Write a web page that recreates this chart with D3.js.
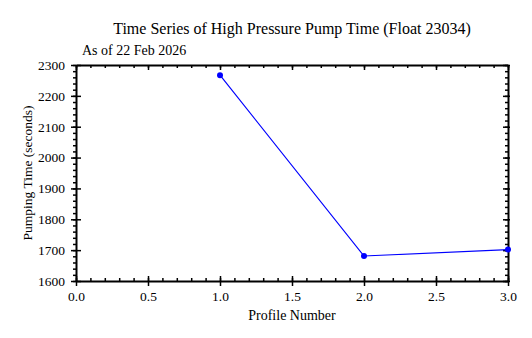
<!DOCTYPE html>
<html><head><meta charset="utf-8">
<script src="https://cdn.jsdelivr.net/npm/d3@7"></script>
<style>body{margin:0;background:#fff}svg{display:block}text{font-family:"Liberation Serif","DejaVu Serif",serif;fill:#000}</style>
</head><body>
<script>
const profiles = [1, 2, 3];
const pumpTime = [2267, 1681, 1702];
const xTicks = [0, 0.5, 1.0, 1.5, 2.0, 2.5, 3.0];
const yTicks = [1600, 1700, 1800, 1900, 2000, 2100, 2200, 2300];
const titleText = "Time Series of High Pressure Pump Time (Float 23034)";
const subtitleText = "As of 22 Feb 2026";
const xLabel = "Profile Number";
const yLabel = "Pumping Time (seconds)";

const W = 532, H = 338;
const m = {l: 76, r: 24, t: 65, b: 57};
const svg = d3.select("body").append("svg").attr("width", W).attr("height", H);
const x = d3.scaleLinear().domain([0, 3]).range([m.l, W - m.r]);
const y = d3.scaleLinear().domain([1600, 2300]).range([H - m.b, m.t]);

const g = svg.append("g");
const xMinor = d3.range(0, 3.0001, 0.1);
const yMinor = d3.range(1600, 2300.1, 20);
function axisStyle(sel){ sel.select(".domain").attr("stroke","#000").attr("stroke-width",2); sel.selectAll(".tick line").attr("stroke","#000").attr("stroke-width",1.5); }

// bottom
const bx = g.append("g").attr("transform",`translate(0,${H-m.b})`)
  .call(d3.axisBottom(x).tickValues(xTicks).tickFormat(d3.format(".1f")).tickSize(5).tickSizeOuter(0));
axisStyle(bx);
bx.selectAll(".tick line").attr("y1",-5);
bx.selectAll(".tick text").attr("font-size",13.5).attr("dy","0.9em");
g.append("g").attr("transform",`translate(0,${H-m.b})`).call(d3.axisBottom(x).tickValues(xMinor).tickSize(-3).tickFormat("").tickSizeOuter(0))
 .call(s=>{s.select(".domain").remove(); s.selectAll("line").attr("stroke","#000").attr("stroke-width",1.5);});
// top
const tx = g.append("g").attr("transform",`translate(0,${m.t})`)
  .call(d3.axisTop(x).tickValues(xTicks).tickFormat("").tickSize(-5).tickSizeOuter(0));
axisStyle(tx);
g.append("g").attr("transform",`translate(0,${m.t})`).call(d3.axisTop(x).tickValues(xMinor).tickSize(-3).tickFormat("").tickSizeOuter(0))
 .call(s=>{s.select(".domain").remove(); s.selectAll("line").attr("stroke","#000").attr("stroke-width",1.5);});
// left
const ly = g.append("g").attr("transform",`translate(${m.l},0)`)
  .call(d3.axisLeft(y).tickValues(yTicks).tickFormat(d3.format("d")).tickSize(5).tickSizeOuter(0));
axisStyle(ly);
ly.selectAll(".tick line").attr("x1",5);
ly.selectAll(".tick text").attr("font-size",13.5).attr("x",-11);
g.append("g").attr("transform",`translate(${m.l},0)`).call(d3.axisLeft(y).tickValues(yMinor).tickSize(3).tickFormat("").tickSizeOuter(0))
 .call(s=>{s.select(".domain").remove(); s.selectAll("line").attr("stroke","#000").attr("stroke-width",1.5);});
// right
const ry = g.append("g").attr("transform",`translate(${W-m.r},0)`)
  .call(d3.axisRight(y).tickValues(yTicks).tickFormat("").tickSize(-5).tickSizeOuter(0));
axisStyle(ry);
ry.selectAll(".tick line").attr("x1",2);
g.append("g").attr("transform",`translate(${W-m.r},0)`).call(d3.axisRight(y).tickValues(yMinor).tickSize(-3).tickFormat("").tickSizeOuter(0))
 .call(s=>{s.select(".domain").remove(); s.selectAll("line").attr("stroke","#000").attr("stroke-width",1.5);});

// data
const pts = profiles.map((p,i)=>({p, v: pumpTime[i]}));
svg.append("path").datum(pts).attr("fill","none").attr("stroke","#0000ff").attr("stroke-width",1.2)
  .attr("d", d3.line().x(d=>x(d.p)).y(d=>y(d.v)));
svg.selectAll("circle.pt").data(pts).enter().append("circle").attr("class","pt")
  .attr("cx",d=>x(d.p)).attr("cy",d=>y(d.v)).attr("r",3).attr("fill","#0000ff");

// texts
svg.append("text").attr("x",(m.l+W-m.r)/2).attr("y",34).attr("text-anchor","middle").attr("font-size",16).text(titleText);
svg.append("text").attr("x",82).attr("y",55).attr("font-size",14).text(subtitleText);
svg.append("text").attr("x",(m.l+W-m.r)/2).attr("y",320).attr("text-anchor","middle").attr("font-size",14).text(xLabel);
svg.append("text").attr("transform",`translate(32,${(m.t+H-m.b)/2}) rotate(-90)`).attr("text-anchor","middle").attr("font-size",13.5).text(yLabel);
</script>
</body></html>
